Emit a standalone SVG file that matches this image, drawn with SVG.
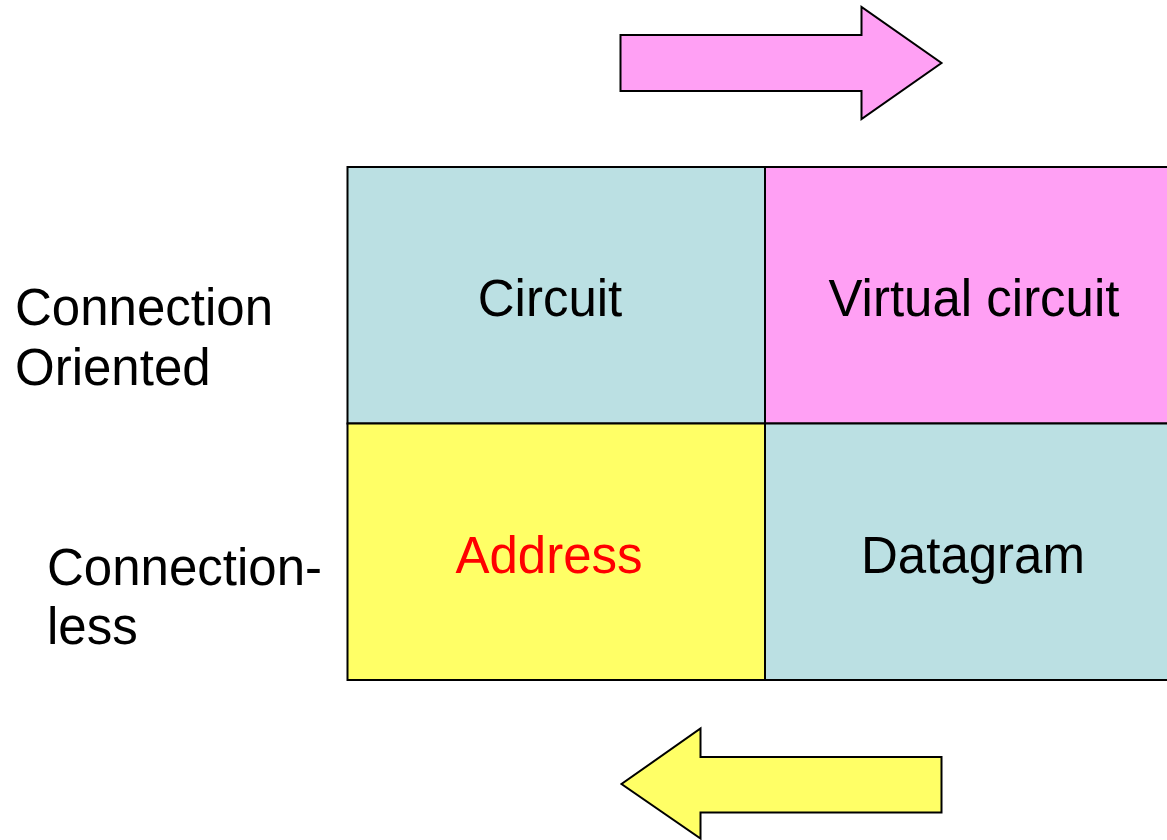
<svg xmlns="http://www.w3.org/2000/svg" width="1167" height="840" viewBox="0 0 1167 840">
<style>
.cell{stroke:#000;stroke-width:2}
.blue{fill:#BBE0E3}
.pink{fill:#FFA0F4}
.yellow{fill:#FFFF66}
.t{font-family:"Liberation Sans",Arial,sans-serif;font-size:51px;fill:#000}
.c{text-anchor:middle}
.lbl{font-family:"Liberation Sans",Arial,sans-serif;font-size:51px;fill:#000}
.arrow{stroke:#000;stroke-width:2;stroke-linejoin:miter}
</style>
<rect width="1167" height="840" fill="#fff"/>
<g id="arrow-right">
<polygon class="arrow pink" points="620.5,35 861.5,35 861.5,7 941.5,63 861.5,119 861.5,91 620.5,91"/>
</g>
<g id="arrow-left">
<polygon class="arrow yellow" points="941.5,757 700.5,757 700.5,728.5 621.5,784 700.5,838.5 700.5,812.5 941.5,812.5"/>
</g>
<g id="cell-circuit">
<rect class="cell blue" x="347.5" y="167" width="417.5" height="256.5"/>
<text class="t c" x="550" y="316">Circuit</text>
</g>
<g id="cell-virtual">
<rect class="cell pink" x="765" y="167" width="410" height="256.5"/>
<text class="t c" x="974" y="316">Virtual circuit</text>
</g>
<g id="cell-address">
<rect class="cell yellow" x="347.5" y="423.5" width="417.5" height="256.5"/>
<text class="t c" x="549" y="573" style="fill:#FF0000">Address</text>
</g>
<g id="cell-datagram">
<rect class="cell blue" x="765" y="423.5" width="410" height="256.5"/>
<text class="t c" x="973" y="573">Datagram</text>
</g>
<g id="label-co">
<text class="lbl" x="15" y="325">Connection</text>
<text class="lbl" x="15" y="385">Oriented</text>
</g>
<g id="label-cl">
<text class="lbl" x="47" y="585">Connection-</text>
<text class="lbl" x="47" y="644">less</text>
</g>
<g id="connectors"></g>
</svg>
